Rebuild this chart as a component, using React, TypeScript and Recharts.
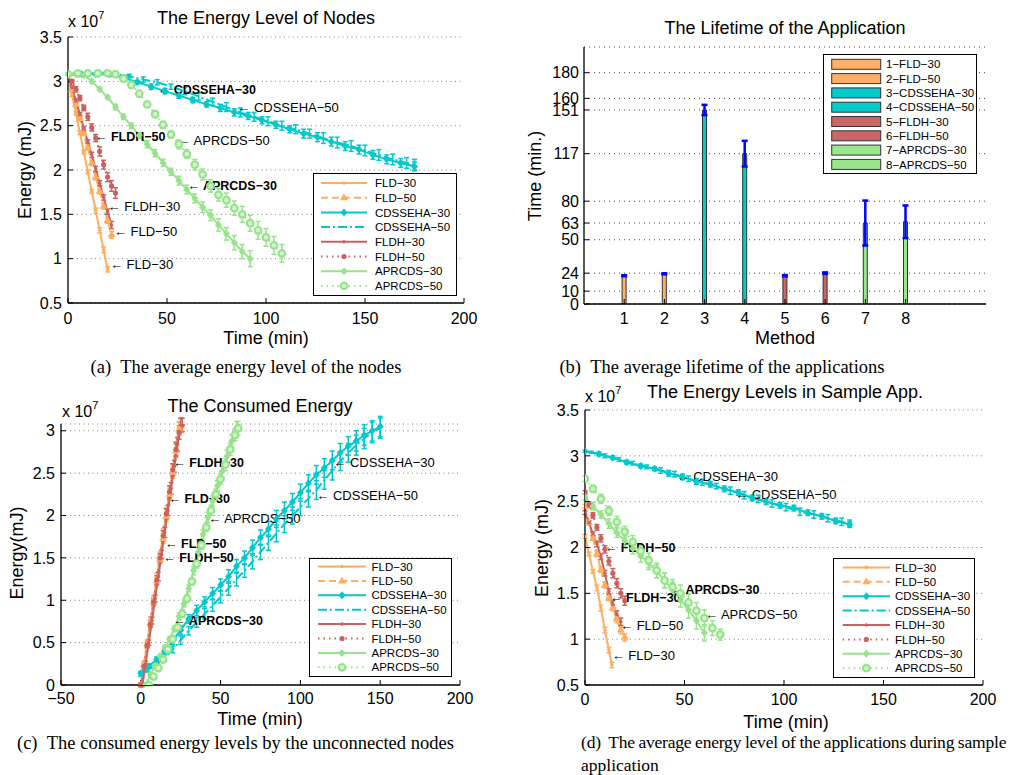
import React from 'react';
import {
  LineChart,
  Line,
  BarChart,
  Bar,
  Cell,
  XAxis,
  YAxis,
  CartesianGrid,
  ErrorBar,
  ReferenceDot,
  Legend,
} from 'recharts';

const SANS = '"Liberation Sans", Arial, Helvetica, sans-serif';
const SERIF = '"Liberation Serif", "Times New Roman", serif';

const ORANGE = '#FFAD5F';
const CYAN = '#00C8CC';
const RED = '#C9625F';
const GREEN = '#97E38C';

type Pt = [number, number, number]; // x, y, error

const seriesNames = ['FLD−30', 'FLD−50', 'CDSSEHA−30', 'CDSSEHA−50', 'FLDH−30', 'FLDH−50', 'APRCDS−30', 'APRCDS−50'];

// ---------- (a) energy level of nodes (x 1e7 mJ) ----------
const aFld30: Pt[] = [[0, 3.08, 0], [2, 2.85, 0.02], [4, 2.64, 0.02], [6, 2.42, 0.02], [8, 2.2, 0.02], [10, 1.98, 0.02], [12, 1.76, 0.02], [14, 1.54, 0.03], [16, 1.32, 0.03], [18, 1.1, 0.03], [20, 0.88, 0.03]];
const aFld50: Pt[] = [[0, 3.08, 0], [2, 2.91, 0.02], [4, 2.74, 0.02], [6, 2.58, 0.02], [8, 2.41, 0.02], [10, 2.25, 0.02], [12, 2.08, 0.03], [14, 1.92, 0.03], [16, 1.76, 0.03], [18, 1.59, 0.03], [20, 1.43, 0.03], [22, 1.27, 0.04]];
const aCds30: Pt[] = [[0, 3.08, 0.01], [7, 3.08, 0.01], [14, 3.08, 0.01], [21, 3.08, 0.02], [28, 3.04, 0.02], [35, 2.99, 0.02], [42, 2.94, 0.03], [49, 2.89, 0.03], [56, 2.84, 0.03], [63, 2.79, 0.03], [70, 2.74, 0.03], [77, 2.7, 0.04], [84, 2.65, 0.04], [91, 2.61, 0.04], [98, 2.56, 0.04], [105, 2.51, 0.04], [112, 2.46, 0.04], [119, 2.41, 0.05], [126, 2.37, 0.05], [133, 2.32, 0.05], [140, 2.27, 0.05], [147, 2.23, 0.05], [154, 2.17, 0.05], [161, 2.12, 0.05], [168, 2.08, 0.05], [175, 2.04, 0.05]];
const aCds50: Pt[] = [[3, 3.08, 0.01], [10, 3.09, 0.01], [17, 3.09, 0.01], [24, 3.08, 0.02], [31, 3.06, 0.02], [38, 3.02, 0.03], [45, 2.99, 0.03], [52, 2.94, 0.03], [59, 2.89, 0.04], [66, 2.83, 0.04], [73, 2.77, 0.04], [80, 2.71, 0.05], [87, 2.65, 0.05], [94, 2.6, 0.05], [101, 2.55, 0.05], [108, 2.5, 0.05], [115, 2.46, 0.05], [122, 2.41, 0.05], [129, 2.36, 0.06], [136, 2.31, 0.06], [143, 2.27, 0.06], [150, 2.22, 0.06], [157, 2.17, 0.06], [164, 2.12, 0.06], [171, 2.08, 0.06], [175, 2.06, 0.06]];
const aFldh30: Pt[] = [[0, 3.08, 0], [2, 2.93, 0.02], [4, 2.78, 0.02], [6, 2.63, 0.02], [8, 2.47, 0.02], [10, 2.32, 0.02], [12, 2.17, 0.03], [14, 2.01, 0.03], [16, 1.85, 0.03], [18, 1.69, 0.03], [20, 1.53, 0.03], [22, 1.38, 0.04]];
const aFldh50: Pt[] = [[0, 3.08, 0], [2, 3.0, 0.02], [4, 2.91, 0.03], [6, 2.81, 0.03], [8, 2.7, 0.03], [10, 2.6, 0.04], [12, 2.48, 0.04], [14, 2.36, 0.04], [16, 2.21, 0.05], [18, 2.06, 0.05], [20, 1.92, 0.05], [22, 1.82, 0.06], [24, 1.74, 0.06]];
const aApr30: Pt[] = [[0, 3.08, 0.01], [4, 3.08, 0.01], [8, 3.07, 0.01], [12, 3.0, 0.02], [16, 2.91, 0.02], [20, 2.82, 0.02], [24, 2.71, 0.03], [28, 2.6, 0.03], [32, 2.5, 0.03], [36, 2.39, 0.03], [40, 2.29, 0.04], [44, 2.19, 0.04], [48, 2.08, 0.04], [52, 1.98, 0.04], [56, 1.88, 0.05], [60, 1.78, 0.05], [64, 1.68, 0.05], [68, 1.58, 0.06], [72, 1.49, 0.06], [76, 1.38, 0.07], [80, 1.28, 0.07], [84, 1.18, 0.08], [88, 1.08, 0.08], [92, 1.0, 0.09]];
const aApr50: Pt[] = [[0, 3.08, 0.01], [5, 3.09, 0.01], [10, 3.09, 0.01], [15, 3.09, 0.01], [20, 3.09, 0.02], [24, 3.08, 0.02], [28, 3.03, 0.02], [32, 2.96, 0.03], [36, 2.86, 0.03], [40, 2.74, 0.03], [44, 2.63, 0.04], [48, 2.51, 0.04], [52, 2.4, 0.04], [56, 2.29, 0.05], [60, 2.18, 0.05], [64, 2.06, 0.06], [68, 1.95, 0.06], [72, 1.82, 0.07], [76, 1.72, 0.07], [80, 1.66, 0.08], [84, 1.57, 0.08], [88, 1.5, 0.09], [92, 1.4, 0.09], [96, 1.32, 0.1], [100, 1.24, 0.1], [104, 1.15, 0.1], [108, 1.06, 0.1]];
const aSeries = [aFld30, aFld50, aCds30, aCds50, aFldh30, aFldh50, aApr30, aApr50];
const aXTicks = [0, 50, 100, 150, 200];
const aYTicks = [0.5, 1, 1.5, 2, 2.5, 3, 3.5];
const aNotes: [number, number, string][] = [
  [45.3, 2.91, 'CDSSEHA−30'],
  [85.5, 2.71, 'CDSSEHA−50'],
  [13.6, 2.38, 'FLDH−50'],
  [55.4, 2.34, 'APRCDS−50'],
  [60.3, 1.83, 'APRCDS−30'],
  [20, 1.59, 'FLDH−30'],
  [23.2, 1.31, 'FLD−50'],
  [21.2, 0.94, 'FLD−30'],
];
const aBold = ['CDSSEHA−30', 'APRCDS−30', 'FLDH−50'];

// ---------- (b) lifetime of the application ----------
const methods = [1, 2, 3, 4, 5, 6, 7, 8];
const lifetimes = [22, 23.5, 151, 117, 22, 24, 63, 64];
const lifetimeErr = [0.4, 0.4, 4, 10, 0.5, 0.6, 17.5, 12.7];
const bNames = ['1−FLD−30', '2−FLD−50', '3−CDSSEHA−30', '4−CDSSEHA−50', '5−FLDH−30', '6−FLDH−50', '7−APRCDS−30', '8−APRCDS−50'];
const bYTicks = [0, 10, 24, 50, 63, 80, 117, 151, 160, 180];
const barColors = ['#FFB066', '#FFB066', '#00CCCC', '#00CCCC', '#CC6666', '#CC6666', '#99E68C', '#99E68C'];

// ---------- (c) consumed energy ----------
const cFld30: Pt[] = [[0, 0, 0.02], [2, 0.25, 0.03], [4, 0.5, 0.03], [6, 0.76, 0.04], [8, 1.01, 0.04], [10, 1.27, 0.05], [12, 1.52, 0.05], [14, 1.78, 0.06], [16, 2.03, 0.06], [18, 2.28, 0.07], [20, 2.54, 0.07], [22, 2.79, 0.08], [24, 3.03, 0.08]];
const cFld50: Pt[] = [[0, 0, 0.02], [2, 0.24, 0.03], [4, 0.48, 0.03], [6, 0.73, 0.04], [8, 0.98, 0.04], [10, 1.23, 0.05], [12, 1.48, 0.05], [14, 1.73, 0.06], [16, 1.99, 0.06], [18, 2.25, 0.07], [20, 2.51, 0.07], [22, 2.76, 0.08], [24, 3.02, 0.08], [25, 3.06, 0.08]];
const cCds30: Pt[] = [[0, 0.14, 0.02], [5, 0.22, 0.03], [10, 0.3, 0.03], [15, 0.4, 0.04], [20, 0.52, 0.04], [25, 0.65, 0.05], [30, 0.78, 0.05], [35, 0.88, 0.06], [40, 0.98, 0.06], [45, 1.08, 0.07], [50, 1.18, 0.07], [55, 1.28, 0.08], [60, 1.4, 0.08], [65, 1.5, 0.08], [70, 1.62, 0.09], [75, 1.74, 0.09], [80, 1.84, 0.09], [85, 1.96, 0.1], [90, 2.06, 0.1], [95, 2.16, 0.1], [100, 2.27, 0.1], [105, 2.38, 0.1], [110, 2.48, 0.11], [115, 2.56, 0.11], [120, 2.65, 0.11], [125, 2.74, 0.11], [130, 2.82, 0.11], [135, 2.88, 0.12], [140, 2.95, 0.12], [145, 3.0, 0.12], [150, 3.05, 0.12]];
const cCds50: Pt[] = [[0, 0.12, 0.02], [5, 0.18, 0.03], [10, 0.24, 0.03], [15, 0.32, 0.04], [20, 0.42, 0.04], [25, 0.53, 0.05], [30, 0.64, 0.05], [35, 0.74, 0.06], [40, 0.84, 0.06], [45, 0.94, 0.07], [50, 1.04, 0.07], [55, 1.14, 0.08], [60, 1.25, 0.08], [65, 1.35, 0.08], [70, 1.46, 0.09], [75, 1.57, 0.09], [80, 1.68, 0.09], [85, 1.79, 0.1], [90, 1.9, 0.1], [95, 2.0, 0.1], [100, 2.1, 0.1], [105, 2.2, 0.1], [110, 2.3, 0.11], [115, 2.42, 0.11], [120, 2.53, 0.11], [125, 2.64, 0.11], [130, 2.74, 0.11], [135, 2.83, 0.12], [140, 2.91, 0.12], [145, 2.98, 0.12], [150, 3.03, 0.12]];
const cFldh30: Pt[] = [[1, 0, 0.02], [3, 0.25, 0.03], [5, 0.5, 0.03], [7, 0.76, 0.04], [9, 1.02, 0.04], [11, 1.28, 0.05], [13, 1.54, 0.05], [15, 1.8, 0.06], [17, 2.06, 0.06], [19, 2.32, 0.07], [21, 2.58, 0.07], [23, 2.84, 0.08], [25, 3.07, 0.08]];
const cFldh50: Pt[] = [[0, 0, 0.02], [2, 0.22, 0.03], [4, 0.47, 0.03], [6, 0.72, 0.04], [8, 0.98, 0.04], [10, 1.24, 0.05], [12, 1.5, 0.05], [14, 1.76, 0.06], [16, 2.02, 0.06], [18, 2.28, 0.07], [20, 2.54, 0.07], [22, 2.78, 0.08], [24, 2.98, 0.08], [26, 3.07, 0.08]];
const cApr30: Pt[] = [[3, 0, 0.01], [6, 0.12, 0.02], [9, 0.23, 0.02], [12, 0.34, 0.02], [15, 0.44, 0.03], [18, 0.54, 0.03], [21, 0.66, 0.03], [24, 0.81, 0.04], [27, 0.96, 0.04], [30, 1.14, 0.04], [33, 1.35, 0.05], [36, 1.57, 0.05], [39, 1.78, 0.05], [42, 1.98, 0.06], [45, 2.17, 0.06], [48, 2.35, 0.06], [51, 2.52, 0.07], [54, 2.7, 0.07], [57, 2.88, 0.07], [60, 3.03, 0.08]];
const cApr50: Pt[] = [[5, 0, 0.01], [8, 0.1, 0.02], [11, 0.2, 0.02], [14, 0.3, 0.02], [17, 0.42, 0.03], [20, 0.54, 0.03], [23, 0.68, 0.03], [26, 0.84, 0.04], [29, 1.02, 0.04], [32, 1.22, 0.04], [35, 1.43, 0.05], [38, 1.65, 0.05], [41, 1.86, 0.05], [44, 2.06, 0.06], [47, 2.25, 0.06], [50, 2.43, 0.06], [53, 2.6, 0.07], [56, 2.78, 0.07], [59, 2.95, 0.07], [61, 3.03, 0.08]];
const cSeries = [cFld30, cFld50, cCds30, cCds50, cFldh30, cFldh50, cApr30, cApr50];
const cXTicks = [-50, 0, 50, 100, 150, 200];
const cYTicks = [0, 0.5, 1, 1.5, 2, 2.5, 3];
const cNotes: [number, number, string][] = [
  [20.4, 2.63, 'FLDH−30'],
  [17.3, 2.2, 'FLD−30'],
  [42.3, 1.97, 'APRCDS−50'],
  [15.2, 1.67, 'FLD−50'],
  [14.1, 1.5, 'FLDH−50'],
  [20.4, 0.76, 'APRCDS−30'],
  [120.6, 2.63, 'CDSSEHA−30'],
  [110, 2.24, 'CDSSEHA−50'],
];
const cBold = ['FLDH−30', 'FLD−30', 'FLD−50', 'FLDH−50', 'APRCDS−30'];

// ---------- (d) energy levels in sample app ----------
const dFld30: Pt[] = [[0, 2.12, 0.02], [2, 1.93, 0.02], [4, 1.74, 0.02], [6, 1.56, 0.03], [8, 1.34, 0.03], [10, 1.1, 0.03], [12, 0.88, 0.03], [13.5, 0.72, 0.03]];
const dFld50: Pt[] = [[0, 2.45, 0.02], [2, 2.27, 0.02], [4, 2.1, 0.02], [6, 1.93, 0.03], [8, 1.76, 0.03], [10, 1.59, 0.03], [12, 1.45, 0.03], [14, 1.34, 0.03], [16, 1.22, 0.04], [18, 1.1, 0.04], [20, 1.02, 0.04]];
const dCds30: Pt[] = [[0, 3.05, 0.01], [7, 3.02, 0.02], [14, 2.98, 0.02], [21, 2.93, 0.02], [28, 2.89, 0.02], [35, 2.86, 0.02], [42, 2.81, 0.03], [49, 2.77, 0.03], [56, 2.72, 0.03], [63, 2.69, 0.03], [70, 2.64, 0.03], [77, 2.6, 0.03], [84, 2.54, 0.03], [91, 2.5, 0.03], [98, 2.46, 0.03], [105, 2.43, 0.03], [112, 2.38, 0.03], [119, 2.34, 0.03], [126, 2.29, 0.03], [133, 2.25, 0.03]];
const dCds50: Pt[] = [[3, 3.04, 0.01], [10, 3.0, 0.02], [17, 2.96, 0.02], [24, 2.92, 0.02], [31, 2.88, 0.02], [38, 2.84, 0.03], [45, 2.8, 0.03], [52, 2.75, 0.03], [59, 2.71, 0.03], [66, 2.67, 0.03], [73, 2.62, 0.04], [80, 2.57, 0.04], [87, 2.53, 0.04], [94, 2.48, 0.04], [101, 2.44, 0.04], [108, 2.39, 0.04], [115, 2.36, 0.04], [122, 2.32, 0.04], [129, 2.28, 0.04], [133, 2.26, 0.04]];
const dFldh30: Pt[] = [[0, 2.38, 0.02], [2, 2.27, 0.02], [4, 2.15, 0.02], [6, 2.04, 0.03], [8, 1.9, 0.03], [10, 1.72, 0.03], [12, 1.52, 0.03], [14, 1.38, 0.04], [16, 1.27, 0.04], [18, 1.19, 0.04]];
const dFldh50: Pt[] = [[0, 2.6, 0.02], [2, 2.47, 0.03], [4, 2.35, 0.03], [6, 2.22, 0.03], [8, 2.1, 0.04], [10, 1.98, 0.04], [12, 1.85, 0.04], [14, 1.72, 0.05], [16, 1.61, 0.05], [18, 1.5, 0.05], [20, 1.42, 0.05]];
const dApr30: Pt[] = [[0, 2.55, 0.03], [4, 2.45, 0.04], [8, 2.36, 0.04], [12, 2.26, 0.05], [16, 2.16, 0.05], [20, 2.07, 0.06], [24, 1.99, 0.06], [28, 1.91, 0.07], [32, 1.83, 0.07], [36, 1.74, 0.07], [40, 1.64, 0.08], [44, 1.54, 0.08], [48, 1.43, 0.08], [52, 1.32, 0.09], [56, 1.2, 0.09], [60, 1.07, 0.09]];
const dApr50: Pt[] = [[0, 2.75, 0.03], [4, 2.64, 0.04], [8, 2.53, 0.05], [12, 2.4, 0.05], [16, 2.28, 0.06], [20, 2.17, 0.06], [24, 2.06, 0.07], [28, 1.96, 0.07], [32, 1.86, 0.08], [36, 1.75, 0.08], [40, 1.64, 0.08], [44, 1.57, 0.08], [48, 1.5, 0.09], [52, 1.4, 0.09], [56, 1.31, 0.09], [60, 1.23, 0.09], [64, 1.12, 0.08], [68, 1.05, 0.06]];
const dSeries = [dFld30, dFld50, dCds30, dCds50, dFldh30, dFldh50, dApr30, dApr50];
const dNotes: [number, number, string][] = [
  [46, 2.78, 'CDSSEHA−30'],
  [75.4, 2.58, 'CDSSEHA−50'],
  [10, 2.0, 'FLDH−50'],
  [12.6, 1.46, 'FLDH−30'],
  [42.7, 1.54, 'APRCDS−30'],
  [60.3, 1.27, 'APRCDS−50'],
  [17.6, 1.15, 'FLD−50'],
  [13.4, 0.82, 'FLD−30'],
];
const dBold = ['FLDH−50', 'FLDH−30', 'APRCDS−30'];

type MarkerKind = 'dot' | 'tri' | 'dia' | 'none' | 'bigdot' | 'ring';
const STYLES: { color: string; dash?: string; marker: MarkerKind }[] = [
  { color: ORANGE, marker: 'dot' },
  { color: ORANGE, dash: '7 4', marker: 'tri' },
  { color: CYAN, marker: 'dia' },
  { color: CYAN, dash: '9 3 2 3', marker: 'none' },
  { color: RED, marker: 'dot' },
  { color: RED, dash: '1.5 4', marker: 'bigdot' },
  { color: GREEN, marker: 'dia' },
  { color: GREEN, dash: '1.5 4', marker: 'ring' },
];

const minus = (v: number) => String(v).replace('-', '−');

function Marker({ kind, color, cx, cy }: { kind: MarkerKind; color: string; cx: number; cy: number }) {
  if (cx == null || cy == null) return null;
  switch (kind) {
    case 'dot':
      return <circle cx={cx} cy={cy} r={1.8} fill={color} />;
    case 'bigdot':
      return <circle cx={cx} cy={cy} r={2.6} fill={color} />;
    case 'tri':
      return <path d={`M${cx},${cy - 4.5}L${cx + 4},${cy + 2.5}L${cx - 4},${cy + 2.5}Z`} fill={color} />;
    case 'dia':
      return <path d={`M${cx},${cy - 4}L${cx + 3.5},${cy}L${cx},${cy + 4}L${cx - 3.5},${cy}Z`} fill={color} />;
    case 'ring':
      return <circle cx={cx} cy={cy} r={3.3} fill="#d4f5cf" stroke={color} strokeWidth={2.2} />;
    default:
      return null;
  }
}

type LegendCfg = { left: number; top: number; width: number; height: number; first: number; step: number; x1: number; x2: number; tx: number };

function LineLegendBox({ cfg }: { cfg: LegendCfg }) {
  return (
    <div style={{ width: cfg.width, height: cfg.height, border: '1.3px solid #000', background: '#fff', boxSizing: 'border-box' }}>
      <svg width={cfg.width - 3} height={cfg.height - 3} style={{ display: 'block' }}>
        {seriesNames.map((n, i) => {
          const st = STYLES[i];
          const y = cfg.first + i * cfg.step;
          const mid = (cfg.x1 + cfg.x2) / 2;
          return (
            <g key={n}>
              <line x1={cfg.x1} x2={cfg.x2} y1={y} y2={y} stroke={st.color} strokeWidth={2} strokeDasharray={st.dash} />
              <Marker kind={st.marker} color={st.color} cx={mid} cy={y} />
              <text x={cfg.tx} y={y} dy="0.36em" fontSize={11.5} fontFamily={SANS} fill="#000">{n}</text>
            </g>
          );
        })}
      </svg>
    </div>
  );
}

function BarLegendBox({ cfg }: { cfg: LegendCfg }) {
  return (
    <div style={{ width: cfg.width, height: cfg.height, border: '1.3px solid #000', background: '#fff', boxSizing: 'border-box' }}>
      <svg width={cfg.width - 3} height={cfg.height - 3} style={{ display: 'block' }}>
        {bNames.map((n, i) => {
          const y = cfg.first + i * cfg.step;
          return (
            <g key={n}>
              <rect x={cfg.x1} y={y - 5} width={cfg.x2 - cfg.x1} height={10} fill={barColors[i]} stroke="#333" strokeWidth={1} />
              <text x={cfg.tx} y={y} dy="0.36em" fontSize={11.5} fontFamily={SANS} fill="#000">{n}</text>
            </g>
          );
        })}
      </svg>
    </div>
  );
}

const tickStyle = { fontSize: 16, fill: '#000', fontFamily: SANS };
const axisLine = { stroke: '#000', strokeWidth: 1.3 };

type PanelProps = {
  left: number;
  top: number;
  width: number;
  height: number;
  margin: { top: number; right: number; bottom: number; left: number };
  xDomain: [number, number];
  xTicks: number[];
  yDomain: [number, number];
  yTicks: number[];
  series: Pt[][];
  notes: [number, number, string][];
  bold: string[];
  legend: LegendCfg;
  xTickMargin: number;
};

function EnergyPanel(p: PanelProps) {
  return (
    <div style={{ position: 'absolute', left: p.left, top: p.top }}>
      <LineChart width={p.width} height={p.height} margin={p.margin} style={{ fontFamily: SANS }}>
        <CartesianGrid vertical={false} stroke="#808080" strokeDasharray="1 3.5" />
        <XAxis
          type="number"
          dataKey="x"
          domain={p.xDomain}
          ticks={p.xTicks}
          interval={0}
          allowDataOverflow
          height={30}
          tickSize={-5}
          tickMargin={p.xTickMargin}
          axisLine={axisLine}
          tickLine={{ stroke: '#000' }}
          tick={tickStyle}
          tickFormatter={minus}
        />
        <XAxis
          xAxisId="t"
          orientation="top"
          type="number"
          dataKey="x"
          domain={p.xDomain}
          ticks={p.xTicks}
          interval={0}
          allowDataOverflow
          height={0}
          tickSize={-5}
          axisLine={axisLine}
          tickLine={{ stroke: '#000' }}
          tickFormatter={() => ''}
        />
        <YAxis
          type="number"
          domain={p.yDomain}
          ticks={p.yTicks}
          interval={0}
          allowDataOverflow
          width={50}
          tickSize={-5}
          tickMargin={11}
          axisLine={axisLine}
          tickLine={{ stroke: '#000' }}
          tick={tickStyle}
        />
        <YAxis
          yAxisId="r"
          orientation="right"
          type="number"
          domain={p.yDomain}
          ticks={p.yTicks}
          interval={0}
          allowDataOverflow
          width={0}
          tickSize={-5}
          axisLine={axisLine}
          tickLine={{ stroke: '#000' }}
          tickFormatter={() => ''}
        />
        {p.series.map((pts, i) => {
          const st = STYLES[i];
          const data = pts.map(([x, y, e]) => ({ x, y, e }));
          return (
            <Line
              key={seriesNames[i]}
              name={seriesNames[i]}
              data={data}
              dataKey="y"
              type="linear"
              stroke={st.color}
              strokeWidth={2}
              strokeDasharray={st.dash}
              isAnimationActive={false}
              activeDot={false}
              dot={
                st.marker === 'none'
                  ? false
                  : (d: any) => <Marker key={`m${i}-${d.index}`} kind={st.marker} color={st.color} cx={d.cx} cy={d.cy} />
              }
            >
              <ErrorBar dataKey="e" direction="y" width={2.5} stroke={st.color} strokeWidth={1.5} isAnimationActive={false} />
            </Line>
          );
        })}
        {p.notes.map(([x, y, label]) => {
          const isBold = p.bold.includes(label);
          return (
            <ReferenceDot
              key={label}
              x={x}
              y={y}
              r={0}
              ifOverflow="visible"
              shape={(d: any) => (
                <text
                  x={d.cx}
                  y={d.cy}
                  dy="0.36em"
                  fontSize={isBold ? 12.5 : 13}
                  fontWeight={isBold ? 'bold' : 'normal'}
                  fontFamily={SANS}
                  fill="#000"
                >
                  {'← ' + label}
                </text>
              )}
            />
          );
        })}
        <Legend
          layout="vertical"
          align="center"
          verticalAlign="middle"
          wrapperStyle={{ left: p.legend.left, top: p.legend.top, width: p.legend.width, height: p.legend.height }}
          content={() => <LineLegendBox cfg={p.legend} />}
        />
      </LineChart>
    </div>
  );
}

function LifetimePanel() {
  const data = methods.map((m, i) => ({ m, v: lifetimes[i], e: lifetimeErr[i] }));
  const legend: LegendCfg = { left: 333, top: 54, width: 154, height: 120, first: 9.3, step: 14.3, x1: 7.7, x2: 56.7, tx: 62 };
  return (
    <div style={{ position: 'absolute', left: 490, top: 0 }}>
      <BarChart width={522} height={340} data={data} margin={{ top: 47, right: 26, bottom: 6, left: 44 }} style={{ fontFamily: SANS }}>
        <CartesianGrid vertical={false} stroke="#444" strokeDasharray="1 4" />
        <XAxis
          type="number"
          dataKey="m"
          domain={[0, 10]}
          ticks={methods}
          interval={0}
          allowDataOverflow
          height={30}
          tickSize={-5}
          tickMargin={14}
          axisLine={axisLine}
          tickLine={{ stroke: '#000' }}
          tick={tickStyle}
        />
        <XAxis
          xAxisId="t"
          orientation="top"
          type="number"
          dataKey="m"
          domain={[0, 10]}
          ticks={methods}
          interval={0}
          allowDataOverflow
          height={0}
          tickSize={-5}
          axisLine={axisLine}
          tickLine={{ stroke: '#000' }}
          tickFormatter={() => ''}
        />
        <YAxis
          type="number"
          domain={[0, 200]}
          ticks={bYTicks}
          interval={0}
          allowDataOverflow
          width={50}
          tickSize={-5}
          tickMargin={10}
          axisLine={axisLine}
          tickLine={{ stroke: '#000' }}
          tick={tickStyle}
        />
        <YAxis
          yAxisId="r"
          orientation="right"
          type="number"
          domain={[0, 200]}
          ticks={bYTicks}
          interval={0}
          allowDataOverflow
          width={0}
          tickSize={-5}
          axisLine={axisLine}
          tickLine={{ stroke: '#000' }}
          tickFormatter={() => ''}
        />
        <Bar dataKey="v" barSize={4} stroke="#333" strokeWidth={1} isAnimationActive={false}>
          {data.map((d, i) => (
            <Cell key={d.m} fill={barColors[i]} />
          ))}
          <ErrorBar dataKey="e" direction="y" width={3} stroke="#0000FF" strokeWidth={2.5} isAnimationActive={false} />
        </Bar>
        <Legend
          layout="vertical"
          align="center"
          verticalAlign="middle"
          wrapperStyle={{ left: legend.left, top: legend.top, width: legend.width, height: legend.height }}
          content={() => <BarLegendBox cfg={legend} />}
        />
      </BarChart>
    </div>
  );
}

function Txt({ x, y, children, size = 18, rotate = false, family = SANS, anchor = 'middle', squeeze = false }: any) {
  const tx = anchor === 'middle' ? '-50%' : '0';
  return (
    <div
      style={{
        position: 'absolute',
        left: x,
        top: y,
        transform: `translate(${tx},-50%)${rotate ? ' rotate(-90deg)' : ''}`,
        transformOrigin: rotate ? 'center' : undefined,
        fontSize: size,
        fontFamily: family,
        whiteSpace: 'nowrap',
        lineHeight: 1,
        color: '#000',
        letterSpacing: squeeze ? -0.2 : undefined,
        wordSpacing: squeeze ? -0.5 : undefined,
      }}
    >
      {children}
    </div>
  );
}

function Exp({ x, y }: { x: number; y: number }) {
  return (
    <div style={{ position: 'absolute', left: x, top: y, fontSize: 16, fontFamily: SANS, whiteSpace: 'nowrap', lineHeight: 1 }}>
      x 10<sup style={{ fontSize: 11, position: 'relative', top: -2 }}>7</sup>
    </div>
  );
}

const CAP = 18.5;

export default function App() {
  return (
    <div style={{ position: 'absolute', left: 0, top: 0, width: 1012, height: 775, background: '#fff', overflow: 'hidden' }}>
      {/* (a) */}
      <EnergyPanel
        left={0}
        top={0}
        width={490}
        height={340}
        margin={{ top: 37, right: 26, bottom: 7, left: 18 }}
        xDomain={[0, 200]}
        xTicks={aXTicks}
        yDomain={[0.5, 3.5]}
        yTicks={aYTicks}
        series={aSeries}
        notes={aNotes}
        bold={aBold}
        xTickMargin={15}
        legend={{ left: 313, top: 173, width: 144, height: 123, first: 9, step: 14.7, x1: 7, x2: 53, tx: 61 }}
      />
      <Txt x={266} y={18}>The Energy Level of Nodes</Txt>
      <Exp x={68} y={12} />
      <Txt x={25} y={170} rotate>Energy (mJ)</Txt>
      <Txt x={266} y={338}>Time (min)</Txt>
      <Txt x={246} y={367} size={CAP} family={SERIF}>(a)&nbsp;&nbsp;The average energy level of the nodes</Txt>

      {/* (b) */}
      <LifetimePanel />
      <Txt x={785} y={28}>The Lifetime of the Application</Txt>
      <Txt x={535} y={176} rotate>Time (min.)</Txt>
      <Txt x={785} y={338}>Method</Txt>
      <Txt x={722} y={367} size={CAP} family={SERIF}>(b)&nbsp;&nbsp;The average lifetime of the applications</Txt>

      {/* (c) */}
      <EnergyPanel
        left={0}
        top={390}
        width={490}
        height={340}
        margin={{ top: 34, right: 30, bottom: 15, left: 11 }}
        xDomain={[-50, 200]}
        xTicks={cXTicks}
        yDomain={[0, 3.08]}
        yTicks={cYTicks}
        series={cSeries}
        notes={cNotes}
        bold={cBold}
        xTickMargin={13}
        legend={{ left: 309, top: 168, width: 143, height: 119, first: 7.5, step: 14.4, x1: 8, x2: 56, tx: 61.5 }}
      />
      <Txt x={260} y={406}>The Consumed Energy</Txt>
      <Exp x={62} y={402} />
      <Txt x={17} y={553} rotate>Energy(mJ)</Txt>
      <Txt x={260} y={719}>Time (min)</Txt>
      <Txt x={17} y={743} size={CAP} family={SERIF} anchor="start">(c)&nbsp;&nbsp;The consumed energy levels by the unconnected nodes</Txt>

      {/* (d) */}
      <EnergyPanel
        left={500}
        top={380}
        width={512}
        height={340}
        margin={{ top: 30, right: 29, bottom: 5, left: 35 }}
        xDomain={[0, 200]}
        xTicks={aXTicks}
        yDomain={[0.5, 3.5]}
        yTicks={aYTicks}
        series={dSeries}
        notes={dNotes}
        bold={dBold}
        xTickMargin={14}
        legend={{ left: 333, top: 178, width: 142, height: 120, first: 8.4, step: 14.4, x1: 8.7, x2: 56, tx: 61 }}
      />
      <Txt x={785} y={392}>The Energy Levels in Sample App.</Txt>
      <Exp x={585} y={387} />
      <Txt x={542} y={548} rotate>Energy (mJ)</Txt>
      <Txt x={786} y={722}>Time (min)</Txt>
      <Txt x={581} y={743} size={17.5} family={SERIF} anchor="start" squeeze>(d)&nbsp;&nbsp;The average energy level of the applications during sample</Txt>
      <Txt x={581} y={766} size={17.5} family={SERIF} anchor="start">application</Txt>
    </div>
  );
}
